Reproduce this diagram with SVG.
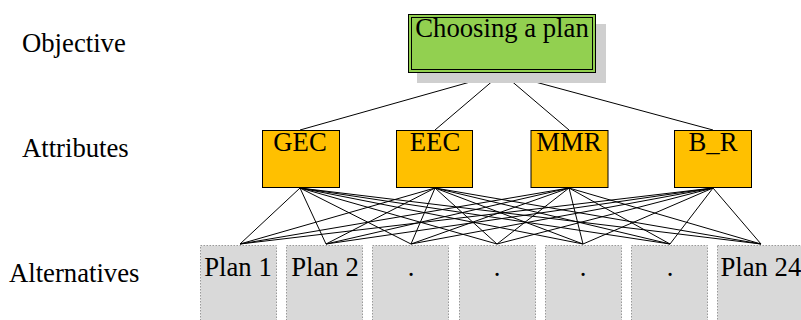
<svg xmlns="http://www.w3.org/2000/svg" width="801" height="320" viewBox="0 0 801 320">
<style>
text{font-family:'Liberation Serif',serif;font-size:26.7px;fill:#000}
.c{text-anchor:middle}
.attr{fill:#ffc000;stroke:#000;stroke-width:1}
.plan{fill:#d9d9d9;stroke:#999;stroke-width:1;stroke-dasharray:1.5 1.5}
.conn line{stroke:#000;stroke-width:1}
</style>
<rect width="801" height="320" fill="#fff"/>
<g id="labels" font-family="Liberation Serif, serif">
<text x="22" y="52">Objective</text>
<text x="22" y="157">Attributes</text>
<text x="9" y="282">Alternatives</text>
</g>
<g class="conn" id="connectors">
<line x1="502" y1="73" x2="300" y2="130"/>
<line x1="502" y1="73" x2="435" y2="130"/>
<line x1="502" y1="73" x2="569" y2="130"/>
<line x1="502" y1="73" x2="713" y2="130"/>
<g id="attr-plan">
<line x1="300" y1="188" x2="240" y2="244"/><line x1="300" y1="188" x2="326" y2="244"/><line x1="300" y1="188" x2="411" y2="244"/><line x1="300" y1="188" x2="497" y2="244"/><line x1="300" y1="188" x2="583" y2="244"/><line x1="300" y1="188" x2="670" y2="244"/><line x1="300" y1="188" x2="761" y2="244"/>
<line x1="435" y1="188" x2="240" y2="244"/><line x1="435" y1="188" x2="326" y2="244"/><line x1="435" y1="188" x2="411" y2="244"/><line x1="435" y1="188" x2="497" y2="244"/><line x1="435" y1="188" x2="583" y2="244"/><line x1="435" y1="188" x2="670" y2="244"/><line x1="435" y1="188" x2="761" y2="244"/>
<line x1="569" y1="188" x2="240" y2="244"/><line x1="569" y1="188" x2="326" y2="244"/><line x1="569" y1="188" x2="411" y2="244"/><line x1="569" y1="188" x2="497" y2="244"/><line x1="569" y1="188" x2="583" y2="244"/><line x1="569" y1="188" x2="670" y2="244"/><line x1="569" y1="188" x2="761" y2="244"/>
<line x1="713" y1="188" x2="240" y2="244"/><line x1="713" y1="188" x2="326" y2="244"/><line x1="713" y1="188" x2="411" y2="244"/><line x1="713" y1="188" x2="497" y2="244"/><line x1="713" y1="188" x2="583" y2="244"/><line x1="713" y1="188" x2="670" y2="244"/><line x1="713" y1="188" x2="761" y2="244"/>
</g>
</g>
<g id="objective">
<rect x="417" y="24" width="189" height="59" fill="#cfcfcf"/>
<rect x="408.5" y="14.5" width="187" height="58" fill="#92d050" stroke="#000" stroke-width="1"/>
<rect x="411.5" y="17.5" width="181" height="52" fill="none" stroke="#000" stroke-width="1"/>
<text class="c" x="502" y="37" font-family="Liberation Serif, serif">Choosing a plan</text>
</g>
<g id="attr-gec"><rect class="attr" x="262.5" y="130.5" width="77" height="57"/><text class="c" x="300" y="151">GEC</text></g>
<g id="attr-eec"><rect class="attr" x="396.5" y="130.5" width="76" height="57"/><text class="c" x="435" y="151">EEC</text></g>
<g id="attr-mmr"><rect class="attr" x="531" y="130.5" width="77" height="57"/><text class="c" x="569" y="151">MMR</text></g>
<g id="attr-br"><rect class="attr" x="674.5" y="130.5" width="77" height="57"/><text class="c" x="713" y="151">B_R</text></g>
<g id="plan-1"><rect class="plan" x="200.5" y="245.5" width="76" height="80"/><text class="c" x="238" y="276">Plan 1</text></g>
<g id="plan-2"><rect class="plan" x="286.5" y="245.5" width="76" height="80"/><text class="c" x="325" y="276">Plan 2</text></g>
<g id="plan-3"><rect class="plan" x="372.5" y="245.5" width="76" height="80"/><text class="c" x="411" y="276">.</text></g>
<g id="plan-4"><rect class="plan" x="459.5" y="245.5" width="76" height="80"/><text class="c" x="497" y="276">.</text></g>
<g id="plan-5"><rect class="plan" x="545.5" y="245.5" width="76" height="80"/><text class="c" x="583" y="276">.</text></g>
<g id="plan-6"><rect class="plan" x="631.5" y="245.5" width="76" height="80"/><text class="c" x="670" y="276">.</text></g>
<g id="plan-24"><rect class="plan" x="717.5" y="245.5" width="86" height="80"/><text x="720.5" y="276">Plan 24</text></g>
</svg>
